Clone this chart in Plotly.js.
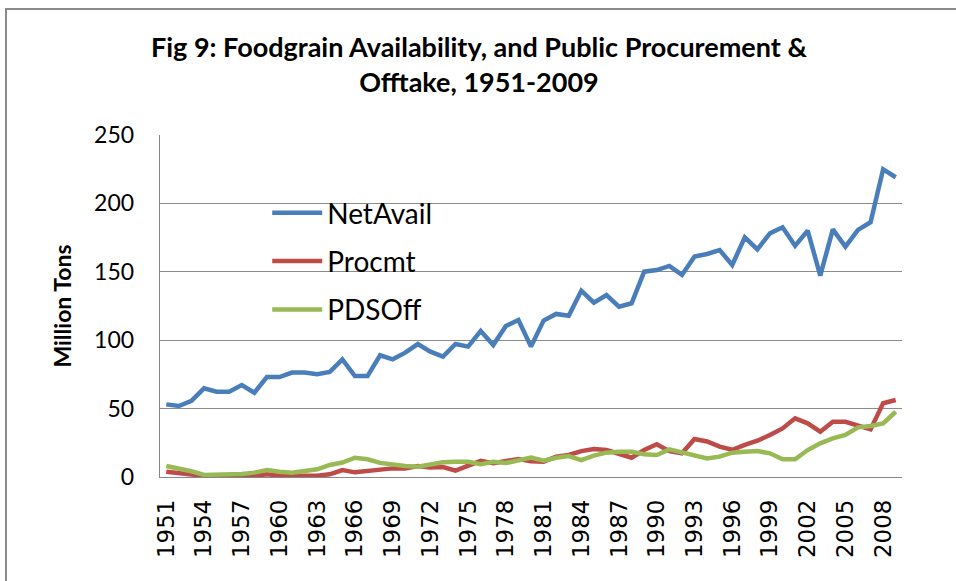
<!DOCTYPE html>
<html>
<head>
<meta charset="utf-8">
<script src="https://cdn.plot.ly/plotly-3.0.1.min.js"></script>
<style>html,body{margin:0;padding:0;background:#fff;}#chart{width:956px;height:581px;}</style>
</head>
<body>
<div id="chart"></div>
<script>
var years = [];
for (var y = 1951; y <= 2009; y++) { years.push(String(y)); }

var tickYears = ["1951","1954","1957","1960","1963","1966","1969","1972","1975","1978","1981","1984","1987","1990","1993","1996","1999","2002","2005","2008"];

var netAvail = [53.1,51.9,55.6,64.8,62.4,62.4,67.2,61.6,73.1,73.1,
  76.3,76.3,75.1,76.8,86.0,73.8,73.8,89.0,86.0,90.9,
  97.2,91.6,88.0,97.2,95.3,106.7,96.5,110.4,114.8,95.3,
  114.3,119.2,117.9,136.2,127.4,133.0,124.5,127.0,150.1,151.3,
  154.3,147.7,161.1,163.0,165.9,155.0,175.2,166.4,178.1,182.5,
  169.1,180.1,147.2,181.0,168.4,180.6,186.2,224.9,219.1];

var procmt = [3.9,3.2,1.9,0.7,0.3,0.1,0.3,0.9,2.0,0.9,
  0.9,0.9,0.9,2.0,5.1,3.4,4.5,5.8,6.3,6.3,
  8.0,7.0,7.3,4.7,8.5,11.8,10.0,11.2,13.2,11.5,
  11.2,14.9,16.1,18.9,20.4,19.7,16.6,14.1,19.7,23.9,
  18.9,17.3,27.8,26.0,22.2,19.9,23.4,26.5,30.7,35.5,
  42.9,39.2,33.1,40.4,40.4,37.3,34.8,53.9,56.3];

var pdsOff = [8.0,6.3,4.2,1.5,1.5,1.5,2.2,3.2,5.1,3.9,
  3.2,4.4,5.6,8.8,10.6,14.1,13.0,10.3,9.0,8.0,
  7.5,9.5,10.8,11.2,11.2,9.4,11.2,10.2,12.4,14.2,
  11.9,14.1,15.3,12.4,15.6,17.8,18.5,18.5,16.6,16.1,
  20.2,18.0,16.1,13.5,14.9,17.8,18.5,19.0,17.3,12.9,
  12.9,19.7,24.6,28.2,30.7,36.3,37.3,39.2,47.7];

var seriesNames = ["NetAvail","Procmt","PDSOff"];
var seriesColors = ["#4A7EBB","#BE4B48","#98B954"];
var seriesData = [netAvail, procmt, pdsOff];

var traces = seriesData.map(function (vals, i) {
  return {
    x: years, y: vals, type: "scatter", mode: "lines",
    name: seriesNames[i], legendgroup: "g" + i,
    line: {color: seriesColors[i], width: 4.5}
  };
});

var layout = {
  width: 956, height: 581,
  margin: {l: 160, r: 54, t: 135, b: 104},
  paper_bgcolor: "#ffffff", plot_bgcolor: "#ffffff",
  font: {family: "Lato, sans-serif", color: "#000"},
  title: {
    text: "<b>Fig 9: Foodgrain Availability, and Public Procurement &<br>Offtake, 1951-2009</b>",
    font: {family: "Lato, sans-serif", size: 27, color: "#000"},
    x: 0.501, xanchor: "center", xref: "container",
    y: 0.902, yanchor: "top", yref: "container"
  },
  xaxis: {
    type: "category", range: [-0.5, 58.5],
    tickmode: "array", tickvals: tickYears, ticktext: tickYears,
    tickangle: -90, tickfont: {family: "DejaVu Sans, sans-serif", size: 23, color: "#000"},
    showgrid: false, zeroline: false,
    showline: true, linecolor: "#868686", linewidth: 1.3,
    ticks: "outside", ticklen: 12, tickcolor: "rgba(0,0,0,0)"
  },
  yaxis: {
    range: [0, 250], dtick: 50, tick0: 0,
    tickfont: {family: "Lato, sans-serif", size: 23, color: "#000"},
    showgrid: true, gridcolor: "#8c8c8c", gridwidth: 1.3,
    zeroline: false, showline: true, linecolor: "#868686", linewidth: 1.3,
    ticks: "outside", ticklen: 20, tickcolor: "rgba(0,0,0,0)",
    title: {text: "<b>Million Tons</b>", font: {family: "Lato, sans-serif", size: 23, color: "#000"}, standoff: 16}
  },
  showlegend: true,
  legend: {
    x: 0.1445, xanchor: "left", y: 0.845, yanchor: "top",
    bgcolor: "rgba(255,255,255,0)", borderwidth: 0,
    font: {family: "Lato, sans-serif", size: 28, color: "#000"},
    traceorder: "grouped", tracegroupgap: 9, itemwidth: 50
  },
  shapes: [{
    type: "rect", xref: "paper", yref: "paper",
    x0: (6 - 160) / 742, x1: (975 - 160) / 742,
    y0: (477 - 600) / 342, y1: (477 - 9) / 342,
    line: {color: "#8a8a8a", width: 2}, fillcolor: "rgba(0,0,0,0)", layer: "below"
  }]
};

Plotly.newPlot("chart", traces, layout, {displayModeBar: false, staticPlot: true});
</script>
</body>
</html>
